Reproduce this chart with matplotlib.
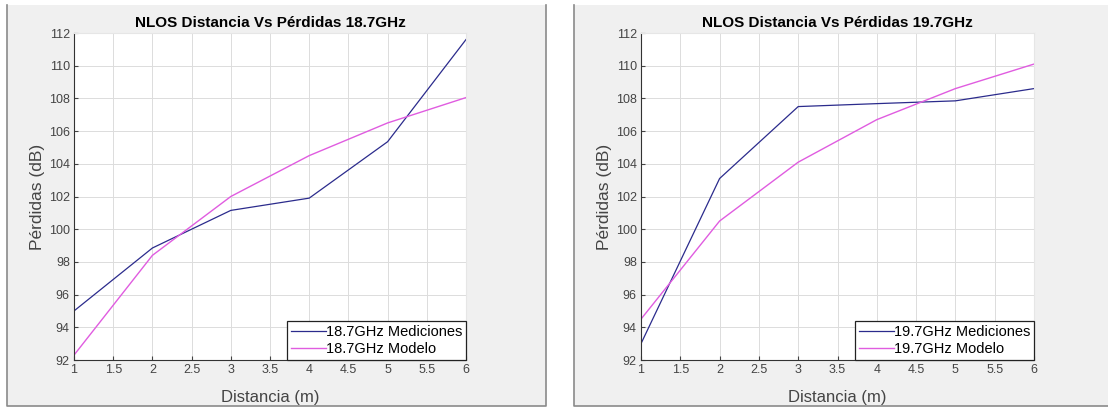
import numpy as np
import matplotlib
matplotlib.use("Agg")
import matplotlib.pyplot as plt
from matplotlib.patches import Rectangle
from matplotlib.lines import Line2D
from matplotlib.ticker import FormatStrFormatter

plt.rcParams['font.family'] = ['Liberation Sans', 'DejaVu Sans']

# datos
distancia = [1, 2, 3, 4, 5, 6]
med_187 = [95.0, 98.85, 101.15, 101.9, 105.35, 111.6]
mod_187 = [92.3, 98.4, 102.0, 104.5, 106.5, 108.05]
med_197 = [93.0, 103.1, 107.5, 107.68, 107.85, 108.6]
mod_197 = [94.5, 100.5, 104.1, 106.7, 108.6, 110.1]

paneles = [
    ("NLOS Distancia Vs Pérdidas 18.7GHz", "18.7GHz", med_187, mod_187),
    ("NLOS Distancia Vs Pérdidas 19.7GHz", "19.7GHz", med_197, mod_197),
]

W, H = 1108, 408
fig = plt.figure(figsize=(W / 100, H / 100), dpi=100)
fig.patch.set_facecolor("white")

# fondos grises de cada figura (borde izq., der. y abajo)
for x0, x1, der in [(7, 546, True), (574, 1108, False)]:
    fig.patches.append(Rectangle((x0 / W, 2 / H), (x1 - x0) / W, 401 / H,
                                 transform=fig.transFigure, facecolor="#f0f0f0",
                                 edgecolor="none", zorder=-5))
    xs = [x0 / W, x0 / W, x1 / W] + ([x1 / W] if der else [])
    ys = [403 / H, 2 / H, 2 / H] + ([403 / H] if der else [])
    fig.lines.append(Line2D(xs, ys, transform=fig.transFigure, color="#8a8a8a",
                            lw=1.2, zorder=-4))

ejes = [[74 / W, 48 / H, 392 / W, 327 / H], [641 / W, 48 / H, 393 / W, 327 / H]]

for pos, (titulo, f, med, mod) in zip(ejes, paneles):
    ax = fig.add_axes(pos)
    ax.set_facecolor("white")
    ax.plot(distancia, med, color="#2b2b8c", lw=0.9, label=f + " Mediciones")
    ax.plot(distancia, mod, color="#e05ce0", lw=1.0, label=f + " Modelo")
    ax.set_xlim(1, 6)
    ax.set_ylim(92, 112)
    ax.set_xticks(np.arange(1, 6.01, 0.5))
    ax.set_yticks(np.arange(92, 112.1, 2))
    ax.xaxis.set_major_formatter(FormatStrFormatter("%g"))
    ax.grid(True, color="#dcdcdc", lw=0.7)
    ax.tick_params(direction="in", length=3, labelsize=9, colors="#444444", pad=3)
    for s in ["left", "bottom"]:
        ax.spines[s].set_color("#333333")
        ax.spines[s].set_linewidth(0.8)
    for s in ["top", "right"]:
        ax.spines[s].set_color("#e6e6e6")
    ax.set_title(titulo, fontsize=11, fontweight="bold", pad=4)
    ax.set_xlabel("Distancia (m)", fontsize=12, color="#444444", labelpad=10)
    ax.set_ylabel("Pérdidas (dB)", fontsize=12.5, color="#444444", labelpad=3)
    leg = ax.legend(loc="lower right", fontsize=10.5, borderaxespad=0, fancybox=False,
                    handlelength=2.4, handletextpad=0.0, borderpad=0.25,
                    labelspacing=0.25, framealpha=1)
    leg.get_frame().set_edgecolor("#222222")
    leg.get_frame().set_linewidth(0.9)

fig.savefig("out.png", dpi=100, facecolor=fig.get_facecolor())
